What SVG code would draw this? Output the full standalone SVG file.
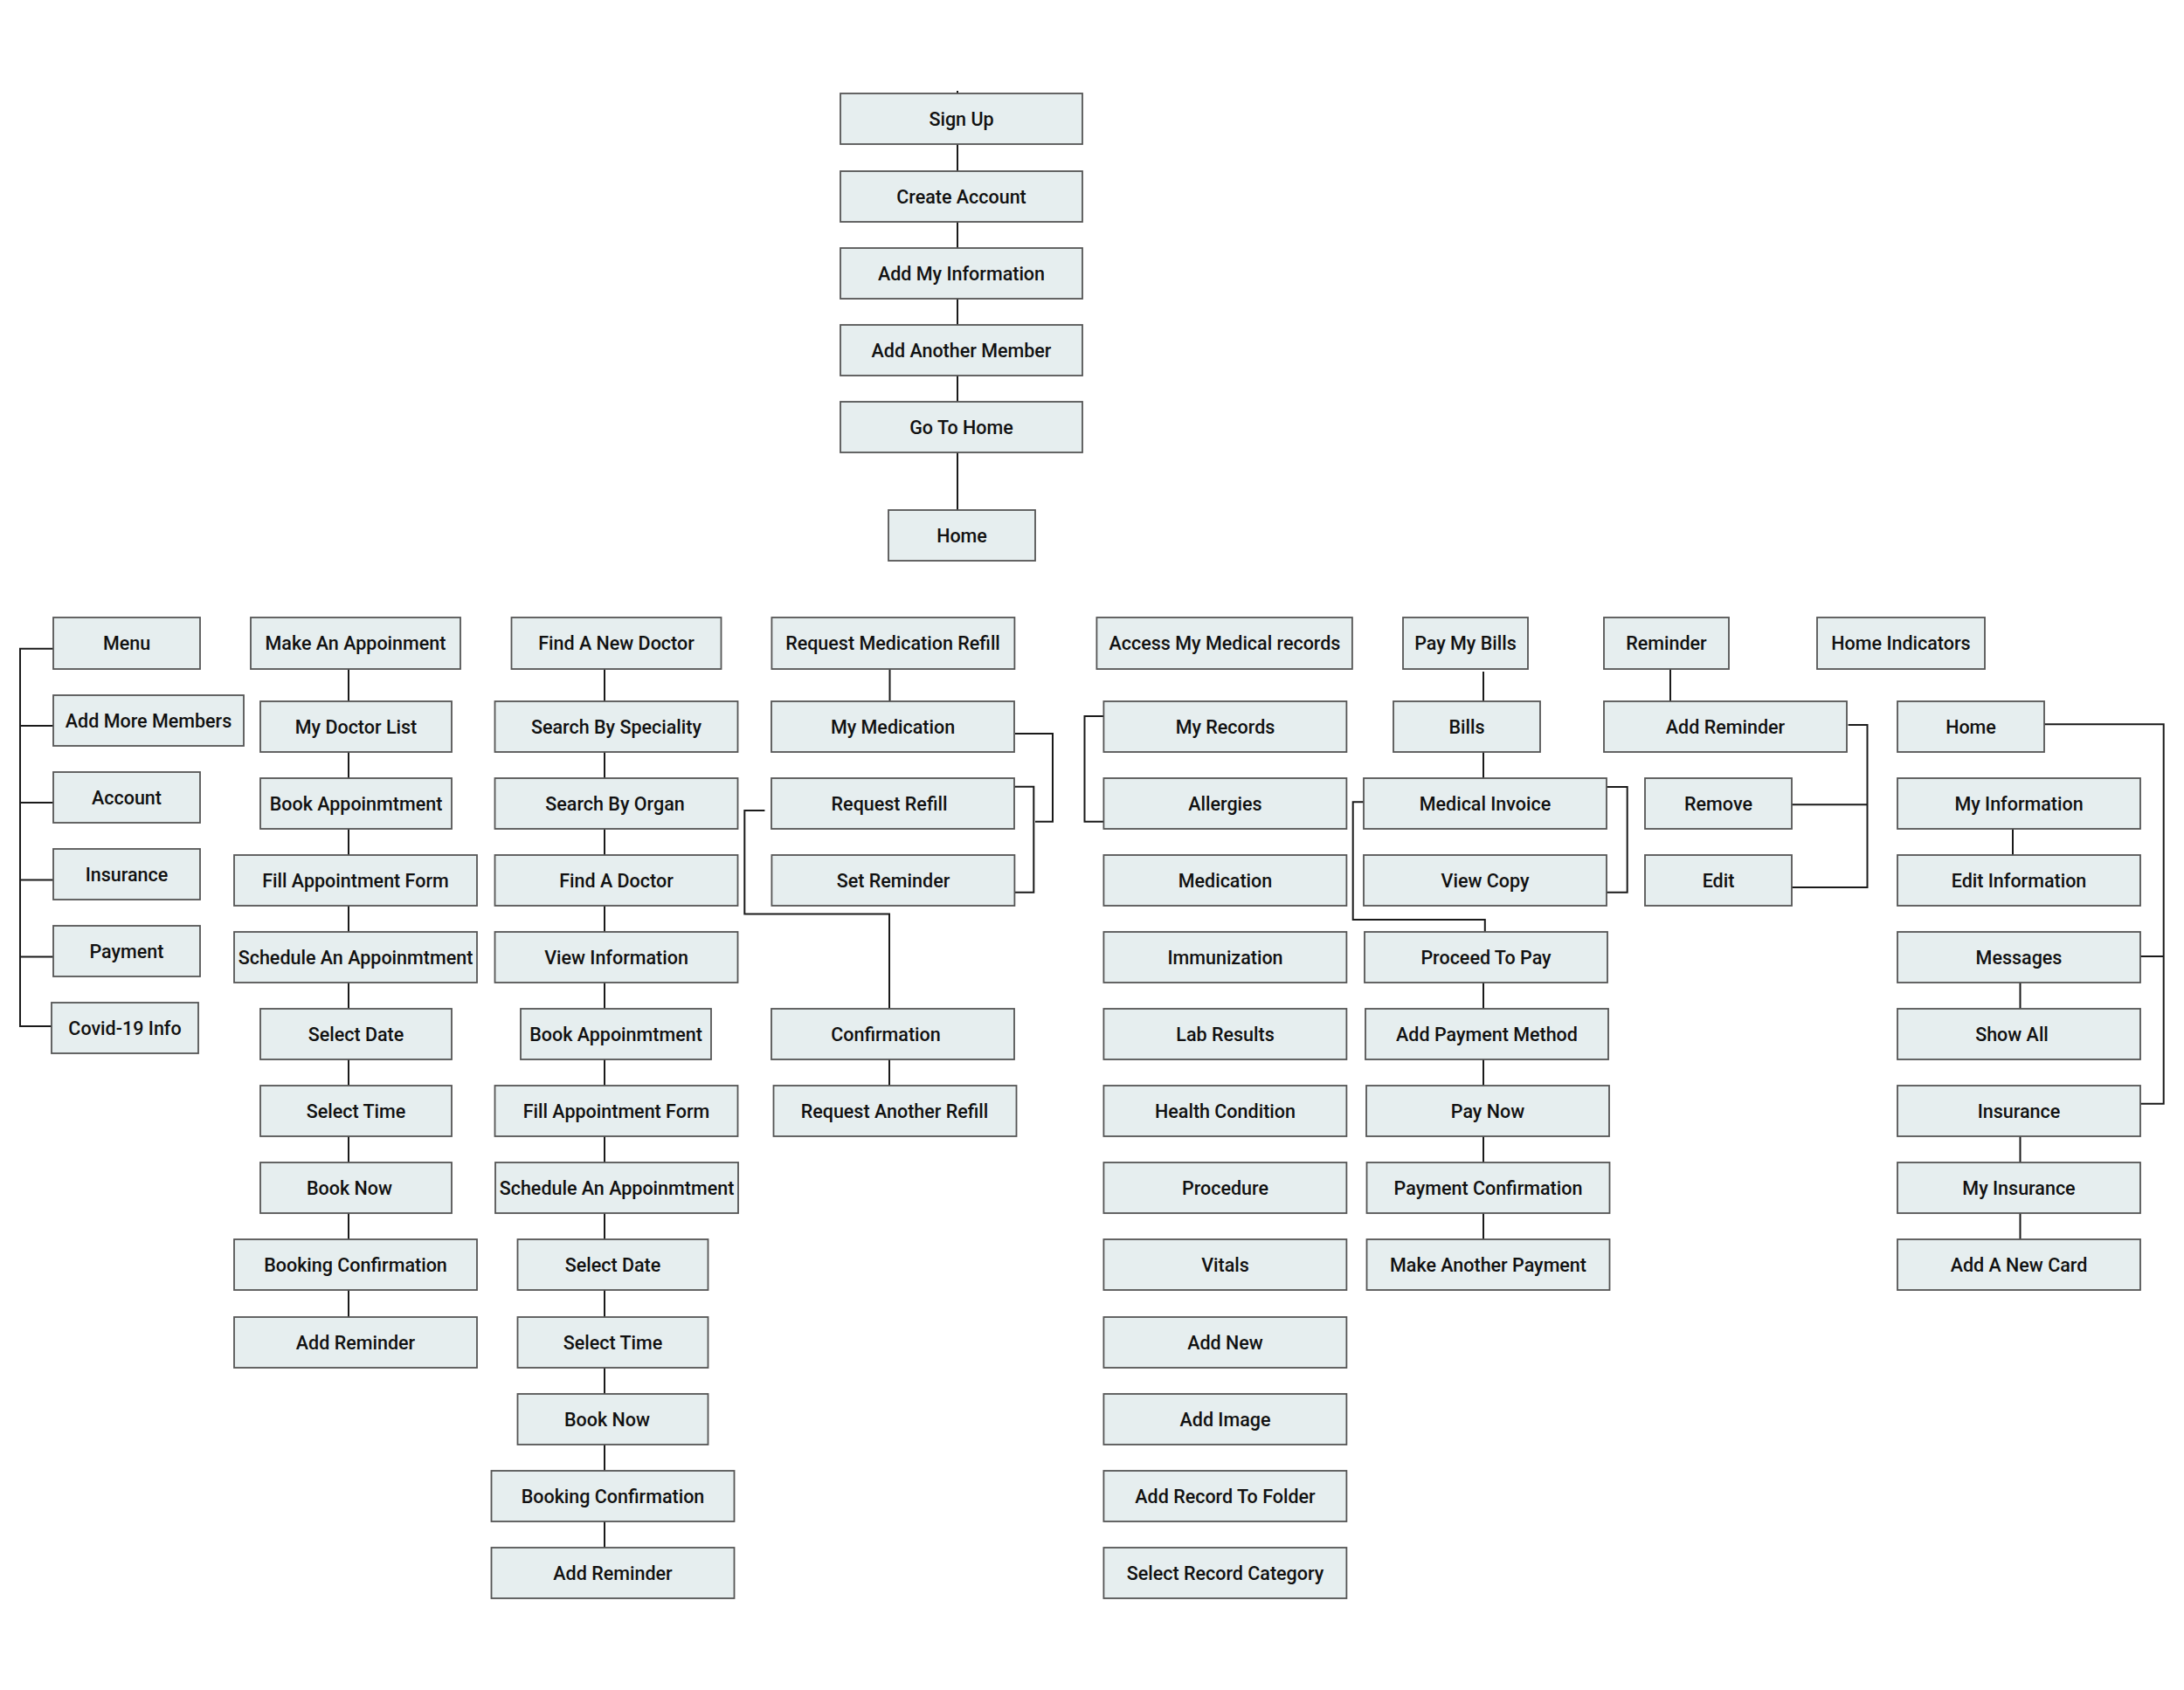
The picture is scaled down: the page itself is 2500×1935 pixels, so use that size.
<svg xmlns="http://www.w3.org/2000/svg" width="2500" height="1935" viewBox="0 0 2500 1935">
<style>
.n rect{fill:#e6eeef;stroke:#555;stroke-width:1.8}
.n text{font-family:Roboto,"Liberation Sans",sans-serif;font-size:21.5px;font-weight:500;fill:#111;text-anchor:middle}
#connectors path,#connectors line{fill:none;stroke:#1a1a1a;stroke-width:2}
</style>
<rect width="2500" height="1935" fill="#ffffff"/>
<g id="connectors">
<line x1="1096" y1="104" x2="1096" y2="107"/>
<line x1="1096" y1="165" x2="1096" y2="196"/>
<line x1="1096" y1="254" x2="1096" y2="284"/>
<line x1="1096" y1="342" x2="1096" y2="372"/>
<line x1="1096" y1="430" x2="1096" y2="460"/>
<line x1="1096" y1="518" x2="1096" y2="584"/>
<path d="M61,742.7 H23 V1175 H59"/>
<line x1="23" y1="831" x2="61" y2="831"/>
<line x1="23" y1="919" x2="61" y2="919"/>
<line x1="23" y1="1007.5" x2="61" y2="1007.5"/>
<line x1="23" y1="1095.6" x2="61" y2="1095.6"/>
<line x1="399" y1="766" x2="399" y2="803"/>
<line x1="399" y1="861" x2="399" y2="891"/>
<line x1="399" y1="949" x2="399" y2="979"/>
<line x1="399" y1="1037" x2="399" y2="1067"/>
<line x1="399" y1="1125" x2="399" y2="1155"/>
<line x1="399" y1="1213" x2="399" y2="1243"/>
<line x1="399" y1="1301" x2="399" y2="1331"/>
<line x1="399" y1="1389" x2="399" y2="1419"/>
<line x1="399" y1="1477" x2="399" y2="1508"/>
<line x1="692" y1="766" x2="692" y2="803"/>
<line x1="692" y1="861" x2="692" y2="891"/>
<line x1="692" y1="949" x2="692" y2="979"/>
<line x1="692" y1="1037" x2="692" y2="1067"/>
<line x1="692" y1="1125" x2="692" y2="1155"/>
<line x1="692" y1="1213" x2="692" y2="1243"/>
<line x1="692" y1="1301" x2="692" y2="1331"/>
<line x1="692" y1="1389" x2="692" y2="1419"/>
<line x1="692" y1="1477" x2="692" y2="1508"/>
<line x1="692" y1="1566" x2="692" y2="1596"/>
<line x1="692" y1="1654" x2="692" y2="1684"/>
<line x1="692" y1="1742" x2="692" y2="1772"/>
<line x1="1018.5" y1="766" x2="1018.5" y2="803"/>
<path d="M1162,840 H1205 V940.7 H1185"/>
<path d="M1161,900.7 H1183.3 V1021.7 H1161"/>
<path d="M875.4,927.9 H852.3 V1046.4 H1018 V1155"/>
<line x1="1018" y1="1213" x2="1018" y2="1243"/>
<path d="M1263,820 H1241.5 V940.7 H1263"/>
<line x1="1698" y1="769" x2="1698" y2="803"/>
<line x1="1698" y1="861" x2="1698" y2="891"/>
<path d="M1561,918.3 H1548.7 V1053 H1699.8 V1067"/>
<path d="M1839,901 H1862.7 V1021.7 H1839"/>
<line x1="1698" y1="1125" x2="1698" y2="1155"/>
<line x1="1698" y1="1213" x2="1698" y2="1243"/>
<line x1="1698" y1="1301" x2="1698" y2="1331"/>
<line x1="1698" y1="1389" x2="1698" y2="1419"/>
<line x1="1912" y1="764" x2="1912" y2="803"/>
<path d="M2115.6,830 H2137.5 V1016 H2051"/>
<line x1="2051" y1="921.3" x2="2137.5" y2="921.3"/>
<line x1="2304" y1="949" x2="2304" y2="979"/>
<line x1="2312.5" y1="1125" x2="2312.5" y2="1155"/>
<line x1="2312.5" y1="1301" x2="2312.5" y2="1331"/>
<line x1="2312.5" y1="1389" x2="2312.5" y2="1419"/>
<path d="M2340,829.3 H2476.7 V1263.7 H2450"/>
<line x1="2450" y1="1095" x2="2476.7" y2="1095"/>
</g>
<g id="sign-up" class="n"><rect x="962" y="107" width="277" height="58"/><text x="1100.5" y="143.7">Sign Up</text></g>
<g id="create-account" class="n"><rect x="962" y="196" width="277" height="58"/><text x="1100.5" y="232.7">Create Account</text></g>
<g id="add-my-information" class="n"><rect x="962" y="284" width="277" height="58"/><text x="1100.5" y="320.7">Add My Information</text></g>
<g id="add-another-member" class="n"><rect x="962" y="372" width="277" height="58"/><text x="1100.5" y="408.7">Add Another Member</text></g>
<g id="go-to-home" class="n"><rect x="962" y="460" width="277" height="58"/><text x="1100.5" y="496.7">Go To Home</text></g>
<g id="home-main" class="n"><rect x="1017" y="584" width="168" height="58"/><text x="1101" y="620.7">Home</text></g>
<g id="menu" class="n"><rect x="61" y="707" width="168" height="59"/><text x="145" y="744">Menu</text></g>
<g id="add-more-members" class="n"><rect x="61" y="796" width="218" height="58"/><text x="170" y="832.7">Add More Members</text></g>
<g id="account" class="n"><rect x="61" y="884" width="168" height="58"/><text x="145" y="920.7">Account</text></g>
<g id="insurance-menu" class="n"><rect x="61" y="972" width="168" height="58"/><text x="145" y="1008.7">Insurance</text></g>
<g id="payment" class="n"><rect x="61" y="1060" width="168" height="58"/><text x="145" y="1096.7">Payment</text></g>
<g id="covid" class="n"><rect x="59" y="1148" width="168" height="58"/><text x="143" y="1184.7">Covid-19 Info</text></g>
<g id="make-appointment" class="n"><rect x="287" y="707" width="240" height="59"/><text x="407" y="744">Make An Appoinment</text></g>
<g id="my-doctor-list" class="n"><rect x="298" y="803" width="219" height="58"/><text x="407.5" y="839.7">My Doctor List</text></g>
<g id="book-appt-1" class="n"><rect x="298" y="891" width="219" height="58"/><text x="407.5" y="927.7">Book Appoinmtment</text></g>
<g id="fill-form-1" class="n"><rect x="268" y="979" width="278" height="58"/><text x="407" y="1015.7">Fill Appointment Form</text></g>
<g id="schedule-1" class="n"><rect x="268" y="1067" width="278" height="58"/><text x="407" y="1103.7">Schedule An Appoinmtment</text></g>
<g id="select-date-1" class="n"><rect x="298" y="1155" width="219" height="58"/><text x="407.5" y="1191.7">Select Date</text></g>
<g id="select-time-1" class="n"><rect x="298" y="1243" width="219" height="58"/><text x="407.5" y="1279.7">Select Time</text></g>
<g id="book-now-1" class="n"><rect x="298" y="1331" width="219" height="58"/><text x="400" y="1367.7">Book Now</text></g>
<g id="booking-confirmation-1" class="n"><rect x="268" y="1419" width="278" height="58"/><text x="407" y="1455.7">Booking Confirmation</text></g>
<g id="add-reminder-1" class="n"><rect x="268" y="1508" width="278" height="58"/><text x="407" y="1544.7">Add Reminder</text></g>
<g id="find-new-doctor" class="n"><rect x="585.5" y="707" width="240" height="59"/><text x="705.5" y="744">Find A New Doctor</text></g>
<g id="search-speciality" class="n"><rect x="566.5" y="803" width="278" height="58"/><text x="705.5" y="839.7">Search By Speciality</text></g>
<g id="search-organ" class="n"><rect x="566.5" y="891" width="278" height="58"/><text x="704" y="927.7">Search By Organ</text></g>
<g id="find-a-doctor" class="n"><rect x="566.5" y="979" width="278" height="58"/><text x="705.5" y="1015.7">Find A Doctor</text></g>
<g id="view-information" class="n"><rect x="566.5" y="1067" width="278" height="58"/><text x="705.5" y="1103.7">View Information</text></g>
<g id="book-appt-2" class="n"><rect x="596" y="1155" width="218" height="58"/><text x="705" y="1191.7">Book Appoinmtment</text></g>
<g id="fill-form-2" class="n"><rect x="566.5" y="1243" width="278" height="58"/><text x="705.5" y="1279.7">Fill Appointment Form</text></g>
<g id="schedule-2" class="n"><rect x="567" y="1331" width="278" height="58"/><text x="706" y="1367.7">Schedule An Appoinmtment</text></g>
<g id="select-date-2" class="n"><rect x="592.5" y="1419" width="218" height="58"/><text x="701.5" y="1455.7">Select Date</text></g>
<g id="select-time-2" class="n"><rect x="592.5" y="1508" width="218" height="58"/><text x="701.5" y="1544.7">Select Time</text></g>
<g id="book-now-2" class="n"><rect x="592.5" y="1596" width="218" height="58"/><text x="695" y="1632.7">Book Now</text></g>
<g id="booking-confirmation-2" class="n"><rect x="562.5" y="1684" width="278" height="58"/><text x="701.5" y="1720.7">Booking Confirmation</text></g>
<g id="add-reminder-2" class="n"><rect x="562.5" y="1772" width="278" height="58"/><text x="701.5" y="1808.7">Add Reminder</text></g>
<g id="request-med-refill" class="n"><rect x="883.4" y="707" width="278" height="59"/><text x="1022" y="744">Request Medication Refill</text></g>
<g id="my-medication" class="n"><rect x="883" y="803" width="278" height="58"/><text x="1022" y="839.7">My Medication</text></g>
<g id="request-refill" class="n"><rect x="883" y="891" width="278" height="58"/><text x="1018" y="927.7">Request Refill</text></g>
<g id="set-reminder" class="n"><rect x="883.4" y="979" width="278" height="58"/><text x="1022.5" y="1015.7">Set Reminder</text></g>
<g id="confirmation" class="n"><rect x="883" y="1155" width="278" height="58"/><text x="1014" y="1191.7">Confirmation</text></g>
<g id="request-another-refill" class="n"><rect x="885.5" y="1243" width="278" height="58"/><text x="1024" y="1279.7">Request Another Refill</text></g>
<g id="access-records" class="n"><rect x="1255.4" y="707" width="292.5" height="59"/><text x="1402" y="744">Access My Medical records</text></g>
<g id="my-records" class="n"><rect x="1263.4" y="803" width="278" height="58"/><text x="1402.5" y="839.7">My Records</text></g>
<g id="allergies" class="n"><rect x="1263.4" y="891" width="278" height="58"/><text x="1402.5" y="927.7">Allergies</text></g>
<g id="medication" class="n"><rect x="1263.4" y="979" width="278" height="58"/><text x="1402.5" y="1015.7">Medication</text></g>
<g id="immunization" class="n"><rect x="1263.4" y="1067" width="278" height="58"/><text x="1402.5" y="1103.7">Immunization</text></g>
<g id="lab-results" class="n"><rect x="1263.4" y="1155" width="278" height="58"/><text x="1402.5" y="1191.7">Lab Results</text></g>
<g id="health-condition" class="n"><rect x="1263.4" y="1243" width="278" height="58"/><text x="1402.5" y="1279.7">Health Condition</text></g>
<g id="procedure" class="n"><rect x="1263.4" y="1331" width="278" height="58"/><text x="1402.5" y="1367.7">Procedure</text></g>
<g id="vitals" class="n"><rect x="1263.4" y="1419" width="278" height="58"/><text x="1402.5" y="1455.7">Vitals</text></g>
<g id="add-new" class="n"><rect x="1263.4" y="1508" width="278" height="58"/><text x="1402.5" y="1544.7">Add New</text></g>
<g id="add-image" class="n"><rect x="1263.4" y="1596" width="278" height="58"/><text x="1402.5" y="1632.7">Add Image</text></g>
<g id="add-record-folder" class="n"><rect x="1263.4" y="1684" width="278" height="58"/><text x="1402.5" y="1720.7">Add Record To Folder</text></g>
<g id="select-record-category" class="n"><rect x="1263.4" y="1772" width="278" height="58"/><text x="1402.5" y="1808.7">Select Record Category</text></g>
<g id="pay-my-bills" class="n"><rect x="1606" y="707" width="143" height="59"/><text x="1677.5" y="744">Pay My Bills</text></g>
<g id="bills" class="n"><rect x="1595" y="803" width="168" height="58"/><text x="1679" y="839.7">Bills</text></g>
<g id="medical-invoice" class="n"><rect x="1561" y="891" width="278" height="58"/><text x="1700" y="927.7">Medical Invoice</text></g>
<g id="view-copy" class="n"><rect x="1561" y="979" width="278" height="58"/><text x="1700" y="1015.7">View Copy</text></g>
<g id="proceed-to-pay" class="n"><rect x="1562" y="1067" width="278" height="58"/><text x="1701" y="1103.7">Proceed To Pay</text></g>
<g id="add-payment-method" class="n"><rect x="1563" y="1155" width="278" height="58"/><text x="1702" y="1191.7">Add Payment Method</text></g>
<g id="pay-now" class="n"><rect x="1564" y="1243" width="278" height="58"/><text x="1703" y="1279.7">Pay Now</text></g>
<g id="payment-confirmation" class="n"><rect x="1564.5" y="1331" width="278" height="58"/><text x="1703.5" y="1367.7">Payment Confirmation</text></g>
<g id="make-another-payment" class="n"><rect x="1564.5" y="1419" width="278" height="58"/><text x="1703.5" y="1455.7">Make Another Payment</text></g>
<g id="reminder" class="n"><rect x="1836" y="707" width="143" height="59"/><text x="1907.5" y="744">Reminder</text></g>
<g id="add-reminder-3" class="n"><rect x="1836" y="803" width="278" height="58"/><text x="1975" y="839.7">Add Reminder</text></g>
<g id="remove" class="n"><rect x="1883" y="891" width="168" height="58"/><text x="1967" y="927.7">Remove</text></g>
<g id="edit" class="n"><rect x="1883" y="979" width="168" height="58"/><text x="1967" y="1015.7">Edit</text></g>
<g id="home-indicators" class="n"><rect x="2080" y="707" width="192" height="59"/><text x="2176" y="744">Home Indicators</text></g>
<g id="home-ind" class="n"><rect x="2172" y="803" width="168" height="58"/><text x="2256" y="839.7">Home</text></g>
<g id="my-information" class="n"><rect x="2172" y="891" width="278" height="58"/><text x="2311" y="927.7">My Information</text></g>
<g id="edit-information" class="n"><rect x="2172" y="979" width="278" height="58"/><text x="2311" y="1015.7">Edit Information</text></g>
<g id="messages" class="n"><rect x="2172" y="1067" width="278" height="58"/><text x="2311" y="1103.7">Messages</text></g>
<g id="show-all" class="n"><rect x="2172" y="1155" width="278" height="58"/><text x="2303" y="1191.7">Show All</text></g>
<g id="insurance-home" class="n"><rect x="2172" y="1243" width="278" height="58"/><text x="2311" y="1279.7">Insurance</text></g>
<g id="my-insurance" class="n"><rect x="2172" y="1331" width="278" height="58"/><text x="2311" y="1367.7">My Insurance</text></g>
<g id="add-new-card" class="n"><rect x="2172" y="1419" width="278" height="58"/><text x="2311" y="1455.7">Add A New Card</text></g>
</svg>
